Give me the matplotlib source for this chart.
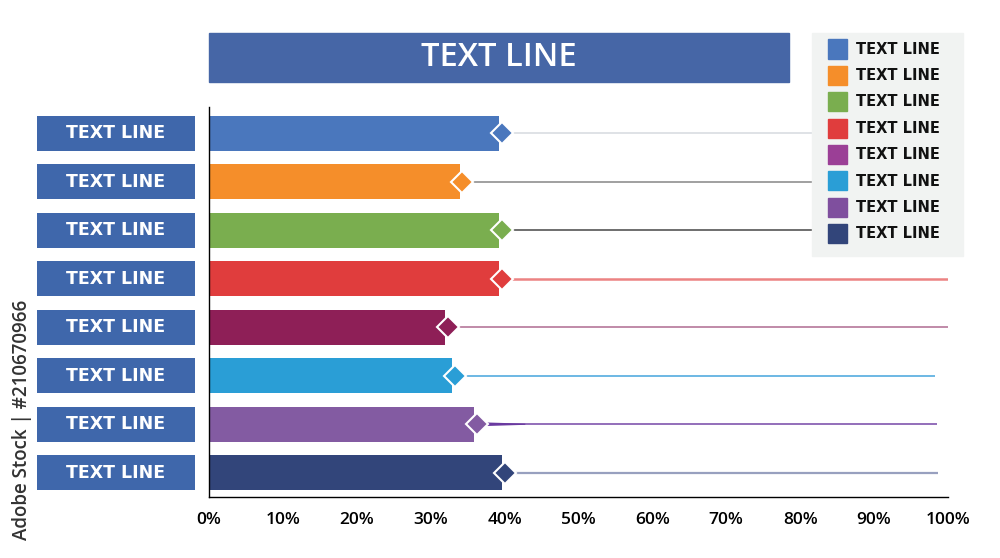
import numpy as np
import matplotlib
matplotlib.use("Agg")
import matplotlib.pyplot as plt
from matplotlib.patches import Rectangle, Polygon

# data
labels = ["TEXT LINE"] * 8
values = [39.2, 33.9, 39.2, 39.2, 31.9, 32.9, 35.8, 39.6]
line_ends = [81.6, 81.6, 81.6, 100.0, 100.0, 98.2, 98.5, 98.6]
bar_colors = ["#4a77bd", "#f58e2a", "#7aae4f", "#e03d3d",
              "#8e1f57", "#2a9ed6", "#835ba2", "#32457a"]
legend_colors = ["#4a77bd", "#f58e2a", "#7aae4f", "#e03d3d",
                 "#9b3f96", "#2a9ed6", "#7f4f9e", "#32457a"]
legend_labels = ["TEXT LINE"] * 8
title = "TEXT LINE"
xticks = [0, 10, 20, 30, 40, 50, 60, 70, 80, 90, 100]

# guide line look (colour, width)
line_styles = [("#dfe2e6", 1.4), ("#909090", 1.2), ("#555555", 1.2),
               ("#ec8383", 1.8), ("#c08aa8", 1.4), ("#6cb8e4", 1.4),
               ("#8a62b4", 1.3), ("#98a0bf", 1.6)]

fig = plt.figure(figsize=(10, 5.58), dpi=100)
ax = fig.add_axes([0.209, 1 - 497 / 558, 0.739, 390 / 558])

y = np.arange(len(values))
ax.barh(y, values, height=0.72, color=bar_colors, zorder=2)

# guide lines from bar end to the right
for i in range(len(values)):
    col, lw = line_styles[i]
    ax.hlines(y[i], values[i] + 1.5, line_ends[i], color=col, lw=lw, zorder=1)
# the purple one is thick next to the diamond and tapers off
x0 = values[6] + 1
ax.add_patch(Polygon([(x0, y[6] - 0.04), (x0 + 6, y[6] - 0.012),
                      (x0 + 6, y[6] + 0.012), (x0, y[6] + 0.04)],
                     closed=True, color="#6a3aa0", lw=0, zorder=1))

for i, v in enumerate(values):
    ax.plot(v + 0.4, y[i], marker="D", markersize=11.5, color=bar_colors[i],
            markeredgecolor="white", markeredgewidth=1.5, zorder=4)

# category label boxes on the left
ax.barh(y, 21.4, left=-23.3, height=0.72, color="#3f67ab", clip_on=False, zorder=2)
for i, lab in enumerate(labels):
    ax.text(-12.6, y[i], lab, color="white", fontsize=12.5, fontweight="bold",
            family="DejaVu Sans", ha="center", va="center", clip_on=False, zorder=3)

ax.set_xlim(0, 100)
ax.set_ylim(len(values) - 0.5, -0.54)
ax.set_yticks([])
ax.set_xticks(xticks)
ax.set_xticklabels([f"{t}%" for t in xticks], fontsize=12.5, family="Open Sans",
                   fontweight="semibold")
ax.tick_params(axis="x", length=0, pad=11)
ax.spines["top"].set_visible(False)
ax.spines["right"].set_visible(False)
ax.spines["left"].set_linewidth(1.0)
ax.spines["bottom"].set_linewidth(1.0)

# title box
fig.patches.append(Rectangle((209 / 1000, 1 - 82 / 558), 580 / 1000, 49 / 558,
                             transform=fig.transFigure, color="#4666a6"))
fig.text(499 / 1000, 1 - 57 / 558, title, color="white", fontsize=23.5,
         fontweight="semibold", family="Open Sans", ha="center", va="center")

# legend box
fig.patches.append(Rectangle((812 / 1000, 1 - 256 / 558), 151 / 1000, 223 / 558,
                             transform=fig.transFigure, color="#f1f3f2", zorder=5))
for i, (c, lab) in enumerate(zip(legend_colors, legend_labels)):
    yc = 49 + i * 26.4
    fig.patches.append(Rectangle((828 / 1000, 1 - (yc + 9.5) / 558), 19 / 1000, 19 / 558,
                                 transform=fig.transFigure, color=c, zorder=6))
    fig.text(856 / 1000, 1 - yc / 558, lab, fontsize=10.5, fontweight="bold",
             family="DejaVu Sans", va="center", ha="left", color="#111111", zorder=7)

fig.text(22 / 1000, 1 - 420 / 558, "Adobe Stock | #210670966", rotation=90,
         fontsize=13.5, color="#333333", family="Open Sans", fontweight="semibold",
         ha="center", va="center")

fig.savefig("out.png", dpi=100)
